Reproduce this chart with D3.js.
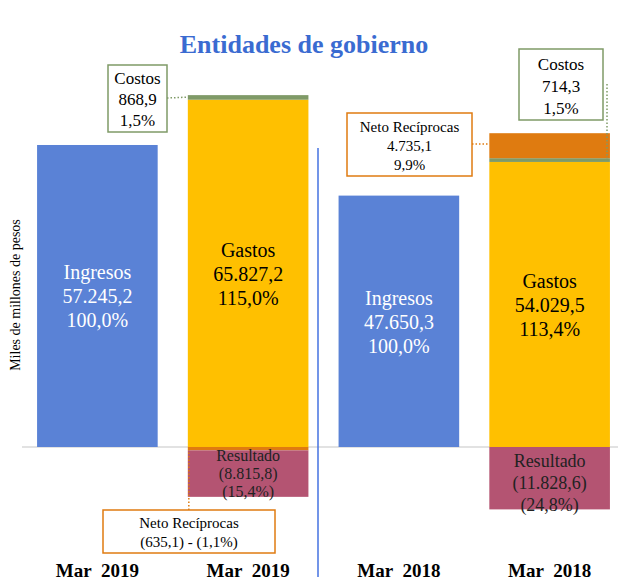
<!DOCTYPE html>
<html>
  <head>
    <meta charset="utf-8" />
    <title>Entidades de gobierno</title>
    <script src="https://d3js.org/d3.v7.min.js"></script>
    <style>
      body { margin: 0; background: #fff; }
    </style>
  </head>
  <body>
    <script>
      // data
      const periods = ['Mar  2019', 'Mar  2019', 'Mar  2018', 'Mar  2018'];
      const years = ['2019', '2018'];
      const ingresos = [57245.2, 47650.3];
      const gastos = [65827.2, 54029.5];
      const costos = [868.9, 714.3];
      const netoReciprocas = [-635.1, 4735.1];
      const resultado = [-8815.8, -11828.6];
      const gastosPct = [115.0, 113.4];
      const costosPct = [1.5, 1.5];
      const netoPct = [-1.1, 9.9];
      const resultadoPct = [-15.4, -24.8];

      const colors = {
        ingresos: '#5a82d6',
        gastos: '#ffc000',
        costos: '#7f9a67',
        neto: '#df7b10',
        resultado: '#b45472',
      };
      const serif = "'Liberation Serif', 'Times New Roman', serif";

      const w = 618, h = 582;
      const svg = d3.select('body').append('svg').attr('width', w).attr('height', h)
        .style('font-family', serif);

      const es = d3.formatLocale({ decimal: ',', thousands: '.', grouping: [3], currency: ['$', ''] });
      const fmt = es.format(',.1f');
      const num = (v) => (v < 0 ? '(' + fmt(-v) + ')' : fmt(v));
      const pct = (v) => (v < 0 ? '(' + fmt(-v) + '%)' : fmt(v) + '%');

      const x = d3.scaleBand().domain(d3.range(4)).range([22, 625]).paddingInner(0.2).paddingOuter(0.1);
      const y = d3.scaleLinear().domain([-20000, 70000]).range([552.5, 77.7]);

      // build stacked segments
      const segs = [];
      years.forEach((yr, i) => {
        segs.push({ bar: i * 2, key: 'ingresos', y0: 0, y1: ingresos[i] });
        let top = 0;
        [['gastos', gastos[i]], ['costos', costos[i]], ['neto', netoReciprocas[i]]].forEach(([k, v]) => {
          if (v > 0) { segs.push({ bar: i * 2 + 1, key: k, y0: top, y1: top + v }); top += v; }
        });
        let bot = 0;
        [['neto', netoReciprocas[i]], ['resultado', resultado[i]]].forEach(([k, v]) => {
          if (v < 0) { segs.push({ bar: i * 2 + 1, key: k, y0: bot + v, y1: bot }); bot += v; }
        });
      });

      // baseline
      svg.append('line')
        .attr('x1', 22).attr('x2', w)
        .attr('y1', y(0)).attr('y2', y(0))
        .attr('stroke', '#d9d9d9').attr('stroke-width', 1.5);

      svg.selectAll('rect.seg')
        .data(segs)
        .enter()
        .append('rect')
        .attr('class', 'seg')
        .attr('x', (d) => x(d.bar))
        .attr('width', x.bandwidth())
        .attr('y', (d) => y(d.y1))
        .attr('height', (d) => y(d.y0) - y(d.y1))
        .attr('fill', (d) => colors[d.key]);

      // divider
      svg.append('line')
        .attr('x1', 318).attr('x2', 318)
        .attr('y1', 148).attr('y2', 577)
        .attr('stroke', '#4472e0').attr('stroke-width', 1.5);

      function lines(cx, ys, txt, size, color) {
        const t = svg.append('text').attr('text-anchor', 'middle')
          .style('font-family', serif)
          .style('font-size', size + 'px').attr('fill', color);
        txt.forEach((s, k) => t.append('tspan').attr('x', cx).attr('y', ys[k])
          .style('font-family', serif).text(s));
      }
      const cx = (b) => x(b) + x.bandwidth() / 2;

      // bar labels
      lines(cx(0), [279, 303, 327], ['Ingresos', num(ingresos[0]), pct(100)], 20, '#fff');
      lines(cx(2), [305, 329, 353], ['Ingresos', num(ingresos[1]), pct(100)], 20, '#fff');
      lines(cx(1), [257, 281, 305], ['Gastos', num(gastos[0]), pct(gastosPct[0])], 20, '#000');
      lines(cx(3), [288, 312, 336], ['Gastos', num(gastos[1]), pct(gastosPct[1])], 20, '#000');
      lines(cx(1), [461, 479, 497], ['Resultado', num(resultado[0]), pct(resultadoPct[0])], 16, '#222');
      lines(cx(3), [467, 489, 511], ['Resultado', num(resultado[1]), pct(resultadoPct[1])], 18, '#222');

      // callout boxes
      function box(x0, y0, bw, bh, stroke) {
        svg.append('rect').attr('x', x0).attr('y', y0).attr('width', bw).attr('height', bh)
          .attr('fill', '#fff').attr('stroke', stroke).attr('stroke-width', 1.5);
      }
      function dotted(pts, stroke) {
        svg.append('path').attr('d', d3.line()(pts)).attr('fill', 'none')
          .attr('stroke', stroke).attr('stroke-width', 1.5).attr('stroke-dasharray', '1.5,2');
      }

      // Costos 2019
      dotted([[167, 98], [x(1), y(gastos[0] + costos[0]) + 2]], colors.costos);
      box(108, 65, 59, 67, colors.costos);
      lines(137.5, [84, 105, 126], ['Costos', num(costos[0]), pct(costosPct[0])], 17, '#000');

      // Neto Reciprocas 2019
      dotted([[x(1) + 1, y(0) + 2], [x(1) + 1, 510]], colors.neto);
      box(103, 510, 172, 43, colors.neto);
      lines(189, [528, 547], ['Neto Recíprocas', num(netoReciprocas[0]) + ' - ' + pct(netoPct[0])], 15, '#000');

      // Costos 2018
      dotted([[607, 84], [607, y(gastos[1] + costos[1])]], colors.costos);
      box(519, 49, 84, 71, colors.costos);
      lines(561, [70, 92, 114], ['Costos', num(costos[1]), pct(costosPct[1])], 17, '#000');

      // Neto Reciprocas 2018
      dotted([[472, 144], [x(3), 144]], colors.neto);
      box(347, 113, 125, 63, colors.neto);
      lines(409.5, [132, 151, 170], ['Neto Recíprocas', num(netoReciprocas[1]), pct(netoPct[1])], 15, '#000');

      // title
      svg.append('text')
        .attr('x', 304).attr('y', 53)
        .attr('text-anchor', 'middle')
        .style('font-family', serif)
        .style('font-size', '26px').style('font-weight', 'bold')
        .attr('fill', '#3a6bd1')
        .text('Entidades de gobierno');

      // y title
      svg.append('text')
        .attr('transform', 'translate(20,295) rotate(-90)')
        .attr('text-anchor', 'middle')
        .style('font-family', serif)
        .style('font-size', '14px')
        .text('Miles de millones  de pesos');

      // x axis
      const ax = svg.append('g')
        .attr('transform', 'translate(0,560)')
        .call(d3.axisBottom(x).tickSize(0).tickPadding(0).tickFormat((d) => periods[d]));
      ax.select('.domain').remove();
      ax.selectAll('text')
        .attr('dy', '17px')
        .style('font-family', serif)
        .style('font-size', '19px').style('font-weight', 'bold')
        .style('white-space', 'pre').attr('fill', '#000');
    </script>
  </body>
</html>
